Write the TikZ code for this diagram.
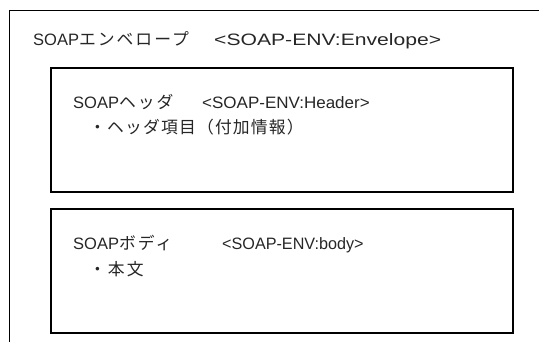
\documentclass[tikz,border=0pt]{standalone}
\usepackage{fontspec}
\usepackage{graphicx}
\setmainfont{Liberation Sans}
\newfontfamily\jpfont[LetterSpace=12]{Noto Sans CJK JP}
\newfontfamily\jpnarrow[LetterSpace=7]{Noto Sans CJK JP}
\newcommand\lat[1]{{\fontsize{16.5}{19}\selectfont #1}}
\newcommand\jpt[1]{{\jpfont\fontsize{16.8}{20}\selectfont #1}}
\newcommand\jpn[1]{{\jpnarrow\fontsize{16.8}{20}\selectfont #1}}
\begin{document}
\begin{tikzpicture}[x=1pt,y=-1pt,
  lbl/.style={anchor=base west,inner sep=0pt,text=black!85},
  inbox/.style={draw=black,line width=2pt},
  outer/.style={draw=black,line width=1.5pt}]
\useasboundingbox (0,0) rectangle (539,342);
\draw[outer] (9.5,350) -- (9.5,10.5) -- (545,10.5);
\node[inbox,minimum width=462pt,minimum height=124pt,anchor=north west] (hdr) at (50,67) {};
\node[inbox,minimum width=462pt,minimum height=124pt,anchor=north west] (bdy) at (50,208) {};
\node[lbl] (t1) at (33,46) {\lat{SOAP}\jpt{エンベロープ}};
\node[lbl] (g1) at (214,46) {\lat{\scalebox{1.28}[1]{<SOAP-ENV:Envelope>}}};
\node[lbl] (t2) at (73,109) {\lat{SOAP}\jpt{ヘッダ}};
\node[lbl] (g2) at (202,109) {\lat{\scalebox{1.03}[1]{<SOAP-ENV:Header>}}};
\node[lbl] (t3) at (89,134) {\jpn{・ヘッダ項目（付加情報）}};
\node[lbl] (t4) at (73,250) {\lat{SOAP}\jpt{ボディ}};
\node[lbl] (g4) at (222,250) {\lat{\scalebox{0.98}[1]{<SOAP-ENV:body>}}};
\node[lbl] (t5) at (89,276) {\jpt{・本文}};
\end{tikzpicture}
\end{document}
